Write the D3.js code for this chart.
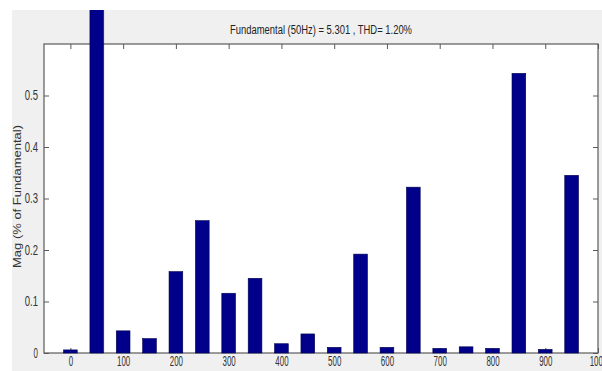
<!DOCTYPE html>
<html>
<head>
<meta charset="utf-8">
<script src="https://cdn.jsdelivr.net/npm/d3@7"></script>
<style>
  body { margin: 0; background: #fff; }
  text { font-family: 'Liberation Sans', Arial, sans-serif; }
</style>
</head>
<body>
<div id="vis"></div>
<script>
// harmonic frequencies (Hz) and magnitudes (% of fundamental)
const freqs = [0, 50, 100, 150, 200, 250, 300, 350, 400, 450, 500, 550, 600, 650, 700, 750, 800, 850, 900, 950];
const mags = [0.006, 100, 0.043, 0.028, 0.158, 0.257, 0.116, 0.145, 0.018, 0.037, 0.011, 0.192, 0.011, 0.322, 0.009, 0.012, 0.009, 0.543, 0.007, 0.345];
const xTicks = [0, 100, 200, 300, 400, 500, 600, 700, 800, 900, 1000];
const yTicks = [0, 0.1, 0.2, 0.3, 0.4, 0.5];
const title = 'Fundamental (50Hz) = 5.301 , THD= 1.20%';

const W = 602, H = 371;
const margin = { top: 44, right: 4, bottom: 18, left: 44 };
const width = W - margin.left - margin.right;
const height = H - margin.top - margin.bottom;

const svg = d3.select('#vis')
    .append('svg')
    .attr('width', W)
    .attr('height', H);

// grey figure background
svg.append('rect')
    .attr('x', 12)
    .attr('y', 10)
    .attr('width', W - 12)
    .attr('height', H - 10)
    .attr('fill', '#f0f0f0');

svg.append('defs').append('clipPath')
    .attr('id', 'fig')
    .append('rect')
    .attr('x', 12).attr('y', 10)
    .attr('width', W - 12).attr('height', H - 10);

const g = svg.append('g')
    .attr('transform', `translate(${margin.left},${margin.top})`);

const x = d3.scaleLinear().domain([-50, 1000]).range([0, width]);
const y = d3.scaleLinear().domain([0, 0.6]).range([height, 0]);

g.append('rect')
    .attr('width', width)
    .attr('height', height)
    .attr('fill', '#fff');

const barW = x(26) - x(0);

// bars (the fundamental runs past the top of the axes)
svg.append('g')
    .attr('clip-path', 'url(#fig)')
    .append('g')
    .attr('transform', `translate(${margin.left},${margin.top})`)
    .selectAll('rect')
    .data(freqs.map((f, i) => ({ f, m: mags[i] })))
    .join('rect')
    .attr('x', d => x(d.f) - barW / 2)
    .attr('y', d => y(d.m))
    .attr('width', barW)
    .attr('height', d => y(0) - y(d.m))
    .attr('fill', '#00008b')
    .attr('stroke', '#000050')
    .attr('stroke-width', 0.6);

const axisColor = '#5a5a5a';
function style(sel) {
    sel.select('.domain').remove();
    sel.selectAll('line').attr('stroke', axisColor);
    sel.selectAll('text')
        .attr('fill', '#333')
        .style('font-size', '14px')
        .attr('textLength', function () { return this.textContent.length * 4.4; })
        .attr('lengthAdjust', 'spacingAndGlyphs');
}

// bottom, top, left, right (ticks inward)
g.append('g')
    .attr('transform', `translate(0,${height})`)
    .call(d3.axisBottom(x).tickValues(xTicks).tickSize(-5).tickPadding(3).tickFormat(d3.format('d')))
    .call(style);

g.append('g')
    .call(d3.axisTop(x).tickValues(xTicks).tickSize(-5).tickFormat(''))
    .call(style);

g.append('g')
    .call(d3.axisLeft(y).tickValues(yTicks).tickSize(-5).tickPadding(6).tickFormat(d => d === 0 ? '0' : d3.format('.1f')(d)))
    .call(style);

g.append('g')
    .attr('transform', `translate(${width},0)`)
    .call(d3.axisRight(y).tickValues(yTicks).tickSize(-5).tickFormat(''))
    .call(style);

// axes box
g.append('rect')
    .attr('width', width)
    .attr('height', height)
    .attr('fill', 'none')
    .attr('stroke', axisColor)
    .attr('stroke-width', 1.2);

// title
svg.append('text')
    .attr('x', margin.left + width / 2)
    .attr('y', 34)
    .attr('text-anchor', 'middle')
    .attr('fill', '#222')
    .style('font-size', '12.5px')
    .attr('textLength', 182)
    .attr('lengthAdjust', 'spacingAndGlyphs')
    .text(title);

// y label
svg.append('text')
    .attr('transform', `translate(21,${margin.top + height / 2 - 2}) rotate(-90)`)
    .attr('text-anchor', 'middle')
    .attr('fill', '#333')
    .style('font-size', '11.5px')
    .attr('textLength', 143)
    .attr('lengthAdjust', 'spacingAndGlyphs')
    .text('Mag (% of Fundamental)');
</script>
</body>
</html>
